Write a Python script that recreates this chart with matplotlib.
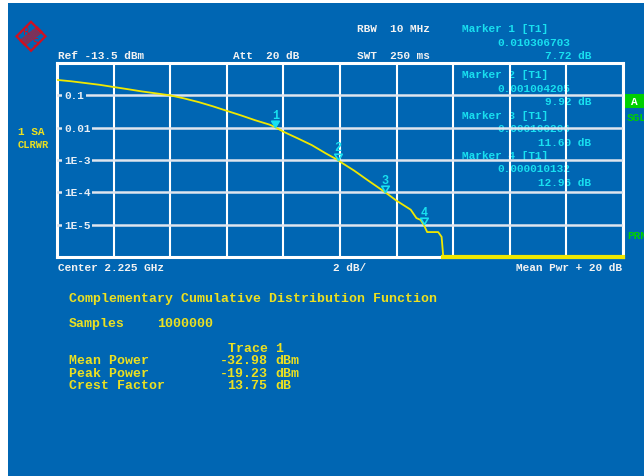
import matplotlib
matplotlib.use("Agg")
import matplotlib.pyplot as plt
from matplotlib.patches import Rectangle, Polygon
from matplotlib.path import Path
import numpy as np

# ---------------- data ----------------
level_db = [0.0, 0.5, 1.0, 1.5, 2.0, 2.5, 3.0, 3.5, 4.0, 4.5, 5.0, 5.5, 6.0, 6.5,
            7.0, 7.5, 7.72, 8.0, 8.5, 9.0, 9.5, 9.92, 10.0, 10.5, 11.0, 11.6,
            12.0, 12.5, 12.7, 12.85, 12.96, 13.08, 13.47, 13.59, 13.65]
ccdf = [0.30, 0.272, 0.240, 0.212, 0.181, 0.155, 0.132, 0.115, 0.100, 0.080,
        0.062, 0.046, 0.0332, 0.024, 0.017, 0.0125, 0.0103, 0.0075, 0.0047,
        0.0029, 0.0016, 0.001004, 0.00089, 0.00047, 0.00023, 0.0001,
        5.5e-5, 2.9e-5, 1.6e-5, 1.4e-5, 1.0e-5, 5.9e-6, 5.9e-6, 4.2e-6, 1.0e-6]
floor_db = [13.65, 20.0]
floor_val = [1.0e-6, 1.0e-6]

marker_db = [7.72, 9.92, 11.60, 12.96]
marker_val = [0.010306703, 0.001004205, 0.000100206, 0.000010132]

x_ticks = [0, 2, 4, 6, 8, 10, 12, 14, 16, 18, 20]
y_ticks = [1e-1, 1e-2, 1e-3, 1e-4, 1e-5]
y_tick_labels = ["0.1", "0.01", "1E-3", "1E-4", "1E-5"]

samples = 1000000
mean_power = -32.98
peak_power = -19.23
crest_factor = 13.75

# ---------------- style ----------------
W, H = 644, 477
BLUE = "#0066b3"
YEL = "#ece020"
CYAN = "#18e0f0"
WHITE = "#f2f2f2"
GREEN = "#00d000"
MONO = ["Liberation Mono", "DejaVu Sans Mono"]

fig = plt.figure(figsize=(W / 100, H / 100), dpi=100, facecolor="white")

# pixel-coordinate background layer
bg = fig.add_axes([0, 0, 1, 1], zorder=0)
bg.set_xlim(0, W)
bg.set_ylim(H, 0)
bg.axis("off")
bg.add_patch(Rectangle((8, 4), W - 8, H - 4, facecolor=BLUE, edgecolor="none"))


def t(x, y, s, color=WHITE, size=8, ha="left", **kw):
    bg.text(x, y, s, color=color, fontsize=size, ha=ha, va="center",
            family=MONO, fontweight="bold", **kw)


# logo
cx, cy, r = 31, 37.3, 14.5
bg.add_patch(Polygon([(cx, cy - r), (cx + r, cy), (cx, cy + r), (cx - r, cy)],
                     closed=True, fill=False, edgecolor="#d01020", lw=1.6))
for k in np.linspace(-3.5, 3.5, 6):
    bg.plot([cx - 9 + k * 0.7, cx + 9 + k * 0.7], [cy + 7 + k * 0.7, cy - 7 + k * 0.7],
            color="#d01020", lw=0.6)
bg.text(cx - 4.5, cy - 5.5, "R", color="#d01020", fontsize=7, ha="center", va="center",
        family="DejaVu Sans")
bg.text(cx + 4, cy + 6, "S", color="#d01020", fontsize=7, ha="center", va="center",
        family="DejaVu Sans")

# header texts
t(58, 56, "Ref -13.5 dBm")
t(233, 56, "Att  20 dB")
t(357, 29, "RBW  10 MHz")
t(357, 56, "SWT  250 ms")

block_y = [29, 75, 116, 156]
for i, (d, v) in enumerate(zip(marker_db, marker_val)):
    y0 = block_y[i]
    t(462, y0, f"Marker {i + 1} [T1]", color=CYAN)
    t(497, y0 + 13.5, f"{v:.9f}", color=CYAN)
    t(591, y0 + 27, f"{d:.2f} dB", color=CYAN, ha="right")

t(18, 132, "1 SA", color=YEL)
t(18, 145.5, "CLRWR", color=YEL, size=7.5)

bg.add_patch(Rectangle((625, 95), 19, 14, facecolor=GREEN, edgecolor="none"))
t(634, 102, "A", color="white", ha="center")
t(627, 118, "SGL", color=GREEN)
t(627, 236, "PRN", color=GREEN)

t(58, 268, "Center 2.225 GHz")
t(333, 268, "2 dB/")
t(622, 268, "Mean Pwr + 20 dB", ha="right")

# lower result text
BS = 9.5
t(69, 299, "Complementary Cumulative Distribution Function", color=YEL, size=BS)
t(69, 324, "Samples", color=YEL, size=BS)
t(157, 324, f"{samples}", color=YEL, size=BS)
t(228, 349, "Trace 1", color=YEL, size=BS)
rows = [("Mean Power", f"{mean_power:.2f} dBm", 361),
        ("Peak Power", f"{peak_power:.2f} dBm", 373.7),
        ("Crest Factor", f"{crest_factor:.2f} dB", 386)]
for name, val, yy in rows:
    t(69, yy, name, color=YEL, size=BS)
    t(267.5, yy, val.split(" ")[0], color=YEL, size=BS, ha="right")
    t(275.5, yy, val.split(" ")[1], color=YEL, size=BS)

# ---------------- main plot ----------------
ax = fig.add_axes([57 / W, 1 - 258 / H, 566 / W, 194 / H], zorder=1)
ax.set_facecolor("none")
ax.set_yscale("log")
ax.set_xlim(0, 20)
ax.set_ylim(1e-6, 1)
ax.set_xticks(x_ticks)
ax.set_yticks(y_ticks)
ax.minorticks_off()
ax.tick_params(length=0, labelbottom=False, labelleft=False)
ax.set_axisbelow(False)
ax.xaxis.grid(True, color="white", lw=1.5)
ax.yaxis.grid(True, color="#dfe5ee", lw=1.8)
for s in ax.spines.values():
    s.set_color("white")
    s.set_linewidth(2.2)

for yv, lab in zip(y_ticks, y_tick_labels):
    ax.text(0.25, yv, lab, color="#e8eef5", fontsize=8, ha="left", va="center",
            family=MONO, fontweight="bold", zorder=3,
            bbox=dict(facecolor=BLUE, edgecolor="none", pad=1.2))

ax.plot(level_db, ccdf, color="#f0e800", lw=1.3, zorder=4)
ax.plot(floor_db, floor_val, color="#f0e800", lw=3, zorder=4, clip_on=False)

tri = Path([(-0.6, 1.0), (0.6, 1.0), (0.0, 0.0), (-0.6, 1.0)],
           [Path.MOVETO, Path.LINETO, Path.LINETO, Path.CLOSEPOLY])
for i, (d, v) in enumerate(zip(marker_db, marker_val)):
    ax.plot([d], [v], marker=tri, markersize=9, linestyle="none",
            markerfacecolor=CYAN if i == 0 else "none", markeredgecolor=CYAN,
            markeredgewidth=1.2, zorder=5)
    ax.annotate(str(i + 1), (d, v), xytext=(0, 9), textcoords="offset points",
                color=CYAN, fontsize=8.5, ha="center", va="center",
                family=MONO, fontweight="bold", zorder=5)

fig.savefig("out.png", dpi=100, facecolor="white")
